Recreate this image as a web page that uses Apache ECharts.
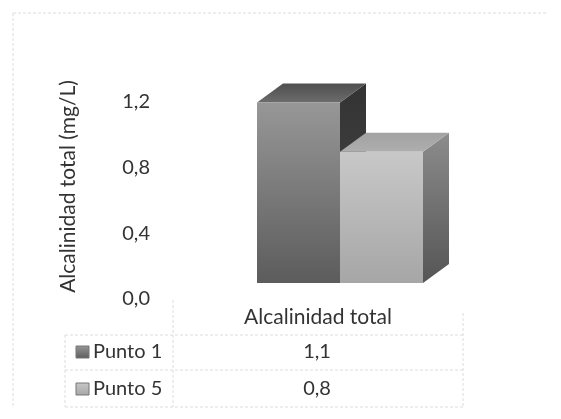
<!DOCTYPE html>
<html>
<head>
<meta charset="utf-8">
<script src="https://cdn.jsdelivr.net/npm/echarts@6/dist/echarts.min.js"></script>
<style>
html, body {margin: 0; padding: 0; background: #fff;}
#chart {width: 561px; height: 419px;}
</style>
</head>
<body>
<div id="chart"></div>
<script>
var categories = ['Alcalinidad total'];
var seriesNames = ['Punto 1', 'Punto 5'];
var punto1 = [1.1];
var punto5 = [0.8];
var yTicks = {min: 0, max: 1.2, interval: 0.4};

var fontName = 'Lato';
var textColor = '#333333';
var gridColor = '#dcdcdc';

// colores de cada cara: frontal (arriba, abajo), lateral (arriba, abajo), tapa
var faces = [
    {front: ['#979797', '#5c5c5c'], side: ['#333333', '#4a4a4a'], top: ['#4f4f4f', '#6c6c6c']},
    {front: ['#c8c8c8', '#a6a6a6'], side: ['#8c8c8c', '#555555'], top: ['#a2a2a2', '#aeaeae']}
];

function coma(v) {
    return v.toFixed(1).replace('.', ',');
}

function vgrad(c) {
    return new echarts.graphic.LinearGradient(0, 0, 0, 1, [
        {offset: 0, color: c[0]},
        {offset: 1, color: c[1]}
    ]);
}

function renderBar(idx) {
    return function (params, api) {
        var lift = 16, depthX = 26, depthY = 19, barW = 83;
        var top = api.coord([api.value(0), api.value(1)]);
        var base = api.coord([api.value(0), 0]);
        var x0 = top[0] - 61 + idx * barW;
        var x1 = x0 + barW;
        var yT = top[1] - lift;
        var yB = base[1] - lift;
        var f = faces[idx];
        return {
            type: 'group',
            children: [
                {
                    type: 'polygon',
                    shape: {points: [[x1, yT], [x1 + depthX, yT - depthY], [x1 + depthX, yB - depthY], [x1, yB]]},
                    style: {fill: vgrad(f.side)}
                },
                {
                    type: 'polygon',
                    shape: {points: [[x0, yT], [x0 + depthX, yT - depthY], [x1 + depthX, yT - depthY], [x1, yT]]},
                    style: {fill: vgrad(f.top)}
                },
                {
                    type: 'rect',
                    shape: {x: x0, y: yT, width: barW, height: yB - yT},
                    style: {fill: vgrad(f.front)}
                }
            ]
        };
    };
}

function line(x1, y1, x2, y2) {
    return {
        type: 'line',
        silent: true,
        shape: {x1: x1, y1: y1, x2: x2, y2: y2},
        style: {stroke: gridColor, lineWidth: 1, lineDash: [3, 2]}
    };
}

function label(text, x, y, align) {
    return {
        type: 'text',
        silent: true,
        x: x,
        y: y,
        style: {
            text: text,
            fill: textColor,
            font: '20px ' + fontName,
            align: align,
            verticalAlign: 'middle'
        }
    };
}

var tableRows = [
    {name: seriesNames[0], value: punto1[0], y: 352},
    {name: seriesNames[1], value: punto5[0], y: 389}
];

var extras = [
    line(13, 13, 548, 13),
    line(13, 13, 13, 407),
    line(173, 300, 173, 407),
    line(463, 313, 463, 407),
    line(65, 335, 65, 407),
    line(65, 335, 463, 335),
    line(65, 370, 463, 370),
    line(65, 407, 463, 407)
];
tableRows.forEach(function (row, i) {
    extras.push({
        type: 'rect',
        silent: true,
        shape: {x: 76, y: row.y - 6, width: 13, height: 12},
        style: {fill: vgrad(faces[i].front), stroke: '#777', lineWidth: 1}
    });
    extras.push(label(row.name, 93, row.y, 'left'));
    extras.push(label(coma(row.value), 317, row.y, 'center'));
});

var myChart = echarts.init(document.getElementById('chart'));
myChart.setOption({
    animation: false,
    backgroundColor: '#fff',
    grid: {left: 173, right: 98, top: 102, height: 197},
    xAxis: {
        type: 'category',
        data: categories,
        axisLine: {show: false},
        axisTick: {show: false},
        axisLabel: {
            margin: 8,
            color: textColor,
            fontFamily: fontName,
            fontSize: 21
        }
    },
    yAxis: {
        type: 'value',
        min: yTicks.min,
        max: yTicks.max,
        interval: yTicks.interval,
        name: 'Alcalinidad total (mg/L)',
        nameLocation: 'middle',
        nameGap: 94,
        nameTextStyle: {
            color: textColor,
            fontFamily: fontName,
            fontSize: 21,
            padding: [0, 0, 0, 28]
        },
        axisLine: {show: false},
        axisTick: {show: false},
        splitLine: {show: false},
        axisLabel: {
            margin: 23,
            color: textColor,
            fontFamily: fontName,
            fontSize: 20,
            formatter: function (v) {
                return coma(v);
            }
        }
    },
    series: [
        {
            name: seriesNames[0],
            type: 'custom',
            renderItem: renderBar(0),
            data: [[0, punto1[0]]],
            encode: {x: 0, y: 1},
            clip: false
        },
        {
            name: seriesNames[1],
            type: 'custom',
            renderItem: renderBar(1),
            data: [[0, punto5[0]]],
            encode: {x: 0, y: 1},
            clip: false
        }
    ],
    graphic: extras
});
</script>
</body>
</html>
